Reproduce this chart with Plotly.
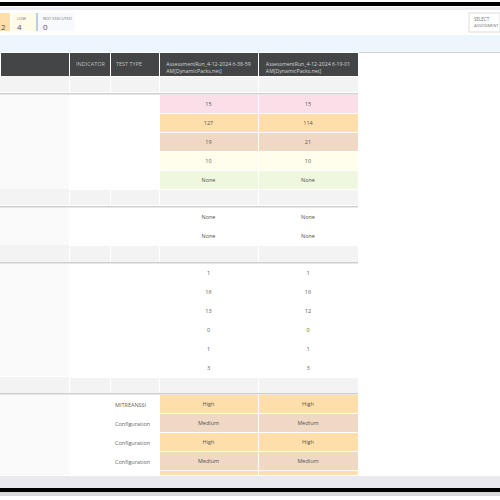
import plotly.graph_objects as go

run_columns = ["AssessmentRun_4-12-2024 6-38-59<br>AM[DynamicPacks.net]",
               "AssessmentRun_4-12-2024 6-19-01<br>AM[DynamicPacks.net]"]
side_columns = ["INDICATOR", "TEST TYPE"]
column_widths = [69, 41, 49, 99, 100]

severity_run1 = ["15", "127", "19", "10", "None"]
severity_run2 = ["15", "114", "21", "10", "None"]
severity_fill = ["#fadfe8", "#fedeaa", "#f0d9c4", "#fffeec", "#eff8de"]

other_run1 = ["None", "None"]
other_run2 = ["None", "None"]

category_run1 = ["1", "16", "13", "0", "1", "3"]
category_run2 = ["1", "16", "12", "0", "1", "3"]

test_types = ["MITREANSSI", "Configuration", "Configuration", "Configuration"]
finding_run1 = ["High", "Medium", "High", "Medium", ""]
finding_run2 = ["High", "Medium", "High", "Medium", ""]
finding_fill = ["#fedeaa", "#f0d9c4", "#fedeaa", "#f0d9c4", "#fedeaa"]

H = 500.0
X_END = 358 / 500
DARK = "#434546"
BAND = "#f3f3f3"
SIDE = "#fafafa"
TEXT = "#555555"


def ydom(top, bottom):
    return [1 - bottom / H, 1 - top / H]


def section(top, bottom, run1, run2, fills=None, row_h=19, side=SIDE, mid="#ffffff"):
    n = len(run1)
    fills = fills or ["#ffffff"] * n
    return go.Table(
        domain=dict(x=[0, X_END], y=ydom(top, bottom)),
        columnwidth=column_widths,
        header=dict(values=[""] * 5, height=0, line_width=0, fill_color="rgba(0,0,0,0)",
                    font_size=1),
        cells=dict(
            values=[[""] * n, [""] * n, [""] * n, run1, run2],
            height=row_h,
            align="center",
            font=dict(family="Open Sans", size=5.5, color=TEXT),
            fill_color=[[side] * n, [mid] * n, [mid] * n, fills, fills],
            line=dict(color=[side, "#ffffff", "#ffffff", "#ffffff", "#ffffff"], width=1),
        ),
    )


def band(top, bottom):
    return section(top, bottom, [""], [""], fills=[BAND], row_h=bottom - top, side=BAND, mid=BAND)


fig = go.Figure()

fig.add_trace(go.Table(
    domain=dict(x=[0, X_END], y=ydom(52, 76)),
    columnwidth=column_widths,
    header=dict(values=[""] * 5, height=0, line_width=0, fill_color="rgba(0,0,0,0)", font_size=1),
    cells=dict(
        values=[[""], [""], [""], [run_columns[0]], [run_columns[1]]],
        height=24,
        align="center",
        font=dict(family="Open Sans", size=5.2, color="#d5d5d5"),
        fill_color=DARK,
        line=dict(color="#ffffff", width=1),
    ),
))

fig.add_trace(band(76, 93))
fig.add_trace(section(94, 189, severity_run1, severity_run2, severity_fill))
fig.add_trace(band(189, 206))
fig.add_trace(section(207, 245, other_run1, other_run2))
fig.add_trace(band(245, 262))
fig.add_trace(section(263, 377, category_run1, category_run2))
fig.add_trace(band(377, 393))
fig.add_trace(section(394, 476, finding_run1, finding_run2, finding_fill))


def rect(x0, y0, x1, y1, fill, line=None, layer="below"):
    return dict(type="rect", xref="paper", yref="paper", layer=layer,
                x0=x0 / 500, x1=x1 / 500, y0=1 - y1 / H, y1=1 - y0 / H,
                fillcolor=fill, line=dict(color=line or fill, width=1 if line else 0))


def label(x, y, text, size=5, color="#777777"):
    return dict(xref="paper", yref="paper", x=x / 500, y=1 - y / H, text=text, showarrow=False,
                xanchor="left", yanchor="middle", align="left",
                xshift=-1, font=dict(family="Open Sans", size=size, color=color))


shapes = [
    rect(0, 2, 500, 6, "#000000"),
    rect(0, 7, 500, 10, "#ececf0"),
    rect(0, 13, 10, 31, "#fedeaa"),
    rect(12, 13, 36, 31, "#fffbe6"),
    rect(36, 13, 38, 31, "#b9cfe4"),
    rect(38, 13, 75, 31, "#f7f9fc"),
    rect(469, 13, 500, 32, "#ffffff", "#dddddd"),
    rect(0, 35, 500, 52, "#eef6fd"),
    rect(0, 52, 500, 53, "#cfd3d6"),
    rect(0, 93, 358, 94.5, "#cfcfcf", layer="above"),
    rect(0, 206, 358, 207.5, "#cfcfcf", layer="above"),
    rect(0, 262, 358, 263.5, "#cfcfcf", layer="above"),
    rect(0, 393, 358, 394.5, "#cfcfcf", layer="above"),
    rect(0, 476, 500, 488, "#e9e9ef"),
    rect(0, 488, 500, 492, "#000000"),
    rect(0, 492, 500, 496, "#d9d9d9"),
]

annotations = [
    label(0, 26, "2", 8, "#555555"),
    label(16, 18, "LOW", 4),
    label(16, 26, "4", 8, "#555555"),
    label(42, 18, "NOT EXECUTED", 4),
    label(42, 26, "0", 8, "#555555"),
    label(473, 19, "SELECT", 4.5),
    label(473, 25, "ASSESSMENT", 4),
    label(75, 64, side_columns[0], 5.5, "#bdbdbd"),
    label(115, 64, side_columns[1], 5.5, "#bdbdbd"),
]
for i, t in enumerate(test_types):
    annotations.append(label(114, 405 + 19 * i, t, 5.5, "#666666"))

fig.update_layout(
    width=500, height=500,
    margin=dict(l=0, r=0, t=0, b=0),
    paper_bgcolor="#ffffff",
    shapes=shapes,
    annotations=annotations,
    showlegend=False,
)

fig.write_html("out.html", config=dict(displayModeBar=False),
               post_script="document.body.style.margin='0';")
